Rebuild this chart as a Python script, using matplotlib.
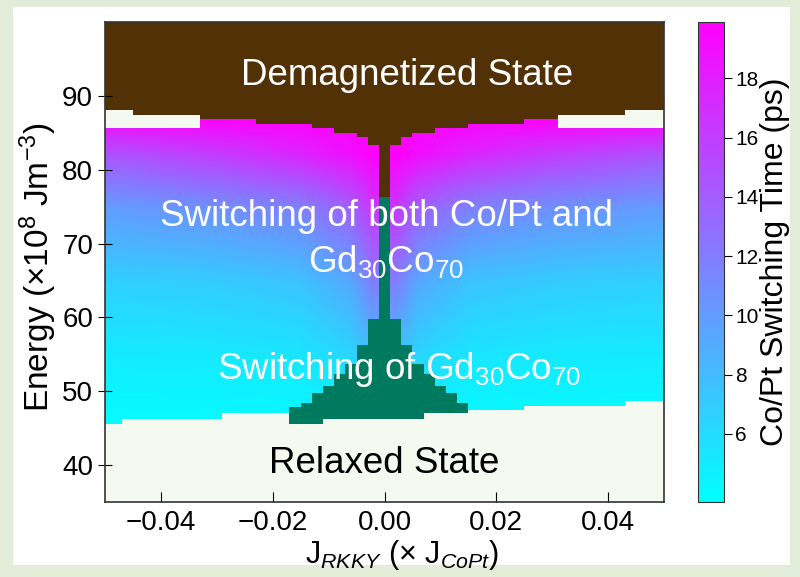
import numpy as np
import matplotlib
matplotlib.use("Agg")
import matplotlib.pyplot as plt
import matplotlib.colors as mcolors
from matplotlib.patches import Rectangle

plt.rcParams['font.family'] = ['Liberation Sans', 'DejaVu Sans']
plt.rcParams['mathtext.fontset'] = 'custom'
plt.rcParams['mathtext.rm'] = 'Liberation Sans'
plt.rcParams['mathtext.it'] = 'Liberation Sans:italic'

# 相図の境界 (J_RKKY の区切り, 各区間のエネルギー)
demag_edges = [-0.05, -0.045, -0.033, -0.023, -0.013, -0.009, -0.005, -0.003, -0.001,
               0.001, 0.003, 0.005, 0.009, 0.015, 0.025, 0.031, 0.043, 0.05]
demag_levels = [88.1, 87.4, 86.8, 86.2, 85.6, 85.0, 84.4, 83.3, 76.3,
                83.3, 84.4, 85.0, 85.6, 86.2, 86.8, 87.4, 88.1]

# 上側の緩和帯 (両端のみ)
band_edges = [-0.05, -0.033, 0.031, 0.05]
band_levels = [85.7, 100.0, 85.7]

relax_edges = [-0.05, -0.047, -0.029, 0.015, 0.025, 0.043, 0.05]
relax_levels = [45.6, 46.3, 47.0, 47.5, 48.0, 48.7]

gd_edges = [-0.017, -0.015, -0.013, -0.011, -0.009, -0.007, -0.005, -0.003, -0.001,
            0.001, 0.003, 0.005, 0.007, 0.009, 0.011, 0.013, 0.015]
gd_top = [47.9, 48.4, 49.7, 50.7, 52.4, 53.7, 56.2, 59.8, 76.3,
          59.8, 56.2, 53.7, 52.4, 50.7, 49.7, 48.4]
gd_bottom = [45.6, 45.6, 45.6, 46.3, 46.3, 46.3, 46.3, 46.3, 46.3,
             46.3, 46.3, 46.3, 47.0, 47.0, 47.0, 47.0]

# Co/Pt 反転時間 (ps)
t_x = [-0.05, -0.03, -0.015, -0.006, -0.002, 0.002, 0.006, 0.015, 0.03, 0.05]
t_y = [45, 55, 65, 75, 82, 87]
t_ps = [
    [3.9, 3.9, 3.9, 3.9, 3.9, 3.9, 3.9, 3.9, 3.9, 3.9],
    [5.0, 5.1, 5.4, 6.3, 7.8, 7.8, 6.3, 5.4, 5.1, 5.0],
    [6.8, 7.0, 7.6, 9.3, 12.0, 12.0, 9.3, 7.6, 7.0, 6.8],
    [10.0, 10.8, 11.8, 14.0, 16.5, 16.5, 14.0, 11.8, 10.8, 10.0],
    [14.5, 16.0, 17.5, 19.0, 19.9, 19.9, 19.0, 17.5, 16.0, 14.5],
    [19.5, 19.9, 19.9, 19.9, 19.9, 19.9, 19.9, 19.9, 19.9, 19.9],
]
t_min, t_max = 3.7, 19.9

brown = '#523106'
green = '#007a5e'
relaxed = '#f5faf0'


def steps(edges, levels):
    return np.asarray(edges), np.append(levels, levels[-1])


fig = plt.figure(figsize=(8, 5.77), dpi=100)
fig.patch.set_facecolor('#e2edd9')
fig.patches.append(Rectangle((13 / 800, 12 / 577), 777 / 800, 558 / 577,
                             transform=fig.transFigure, facecolor='white',
                             edgecolor='none', zorder=-10))

ax = fig.add_axes([105 / 800, 75 / 577, 559 / 800, 480 / 577])
cax = fig.add_axes([698 / 800, 75 / 577, 26 / 800, 480 / 577])

norm = mcolors.Normalize(vmin=t_min, vmax=t_max)
mesh = ax.pcolormesh(t_x, t_y, np.array(t_ps), shading='gouraud', cmap='cool', norm=norm)

ax.set_facecolor(relaxed)
x, y = steps(relax_edges, relax_levels)
ax.fill_between(x, 35, y, step='post', color=relaxed, lw=0)
x, y = steps(band_edges, band_levels)
ax.fill_between(x, y, 100, step='post', color=relaxed, lw=0)
x, y = steps(demag_edges, demag_levels)
ax.fill_between(x, y, 100, step='post', color=brown, lw=0)
x, y = steps(gd_edges, gd_top)
_, yb = steps(gd_edges, gd_bottom)
ax.fill_between(x, yb, y, step='post', color=green, lw=0)

ax.set_xlim(-0.05, 0.05)
ax.set_ylim(35, 100)
ax.set_xticks([-0.04, -0.02, 0.0, 0.02, 0.04])
ax.set_yticks([40, 50, 60, 70, 80, 90])
ax.tick_params(axis='x', direction='in', length=7, labelsize=20, pad=6)
ax.tick_params(axis='y', direction='inout', length=10, labelsize=20)
for s in ax.spines.values():
    s.set_color('#333333')
    s.set_linewidth(1.2)

ax.set_xlabel(r'J$_{RKKY}$ (× J$_{CoPt}$)', fontsize=22)
ax.xaxis.set_label_coords(0.531, -0.075)
ax.set_ylabel(r'Energy (×10$^8$ Jm$^{-3}$)', fontsize=24)
ax.yaxis.set_label_coords(-0.083, 0.49)

txt = dict(ha='center', va='center', fontsize=26.5)
ax.text(0.004, 92.8, 'Demagnetized State', color='white', **txt)
ax.text(0.0003, 70.55, 'Switching of both Co/Pt and\nGd$_{30}$Co$_{70}$', color='white',
        linespacing=1.3, **txt)
ax.text(0.0027, 52.9, 'Switching of Gd$_{30}$Co$_{70}$', color='white', **txt)
ax.text(0, 40.2, 'Relaxed State', color='black', **txt)

cb = fig.colorbar(mesh, cax=cax)
cb.set_ticks([6, 8, 10, 12, 14, 16, 18])
cb.ax.tick_params(labelsize=15, length=6, pad=2)
cb.outline.set_edgecolor('#333333')
cb.set_label('Co/Pt Switching Time (ps)', fontsize=23, labelpad=1)

fig.savefig('out.png', dpi=100, facecolor=fig.get_facecolor())
